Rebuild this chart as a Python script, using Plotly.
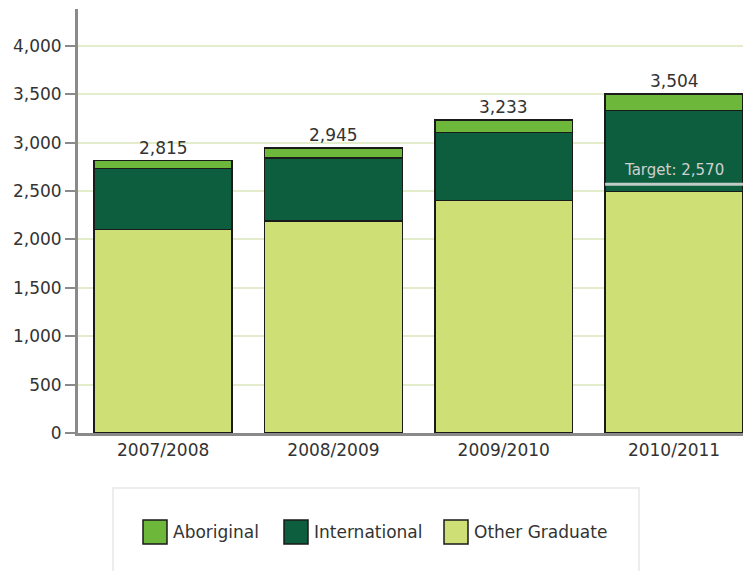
import plotly.graph_objects as go

years = ["2007/2008", "2008/2009", "2009/2010", "2010/2011"]
other_graduate = [2100, 2190, 2400, 2495]
international = [630, 650, 705, 836]
aboriginal = [85, 105, 128, 173]
totals = [2815, 2945, 3233, 3504]
target_year = "2010/2011"
target_value = 2570

series = [
    ("Other Graduate", other_graduate, "#cedf75"),
    ("International", international, "#0c5e3f"),
    ("Aboriginal", aboriginal, "#6db73b"),
]

FONT = "DejaVu Sans"
BAR_W = 0.81

fig = go.Figure()
for name, vals, col in series:
    fig.add_trace(go.Bar(
        x=years, y=vals, name=name, width=BAR_W,
        marker=dict(color=col, line=dict(color="#1a1a1a", width=1.5)),
        showlegend=False,
    ))

# total labels over each stack
for yr, tot in zip(years, totals):
    fig.add_annotation(x=yr, y=tot, text=f"{tot:,}", showarrow=False,
                       yanchor="bottom", yshift=1,
                       font=dict(family=FONT, size=17, color="#333"))

# target marker on the last bar
ti = years.index(target_year)
fig.add_shape(type="line", xref="x", yref="y",
              x0=ti - BAR_W / 2, x1=ti + BAR_W / 2, y0=target_value, y1=target_value,
              line=dict(color="rgba(215,215,215,0.9)", width=3))
fig.add_annotation(x=target_year, y=target_value, text=f"Target: {target_value:,}",
                   showarrow=False, yanchor="bottom", yshift=3,
                   font=dict(family=FONT, size=15, color="#d0d0d0"))

# page has an 8px body margin, so the figure is made 8px smaller
OFF = 8
W, H = 751 - OFF, 571 - OFF
# plot area in page pixels
L, R, T, B = 78, 751, 9, 433
def px(x):
    return (x - L) / (R - L)
def py(y):
    return (B - y) / (B - T)

# hand-made legend below the plot
fig.add_shape(type="rect", xref="paper", yref="paper",
              x0=px(113), x1=px(639), y0=py(488), y1=py(620),
              line=dict(color="#e8e8e8", width=1.5), fillcolor="white", layer="below")
legend_items = [("Aboriginal", "#6db73b", 143), ("International", "#0c5e3f", 284),
                ("Other Graduate", "#cedf75", 444)]
for name, col, x0 in legend_items:
    fig.add_shape(type="rect", xref="paper", yref="paper",
                  x0=px(x0), x1=px(x0 + 24), y0=py(520), y1=py(544),
                  line=dict(color="#1a1a1a", width=1.5), fillcolor=col)
    fig.add_annotation(xref="paper", yref="paper", x=px(x0 + 28), y=py(532),
                       text=name, showarrow=False, xanchor="left", yanchor="middle",
                       font=dict(family=FONT, size=17, color="#333"))

fig.update_layout(
    barmode="stack",
    width=W, height=H,
    margin=dict(l=L - OFF, r=0, t=T - OFF, b=H - (B - OFF)),
    plot_bgcolor="white", paper_bgcolor="white",
    font=dict(family=FONT, size=17, color="#333"),
)
fig.update_xaxes(range=[-0.5, 3.452], showgrid=False, showline=True,
                 linecolor="#8a8a8a", linewidth=3, ticks="",
                 tickfont=dict(family=FONT, size=17, color="#333"))
fig.update_yaxes(range=[0, 4380], dtick=500, tickformat=",", showgrid=True,
                 gridcolor="#e3edcb", gridwidth=1.5, showline=True,
                 linecolor="#8a8a8a", linewidth=3, ticks="outside", ticklen=10,
                 tickwidth=2, tickcolor="#8a8a8a", zeroline=False,
                 tickfont=dict(family=FONT, size=17, color="#333"))

fig.write_html("out.html")
